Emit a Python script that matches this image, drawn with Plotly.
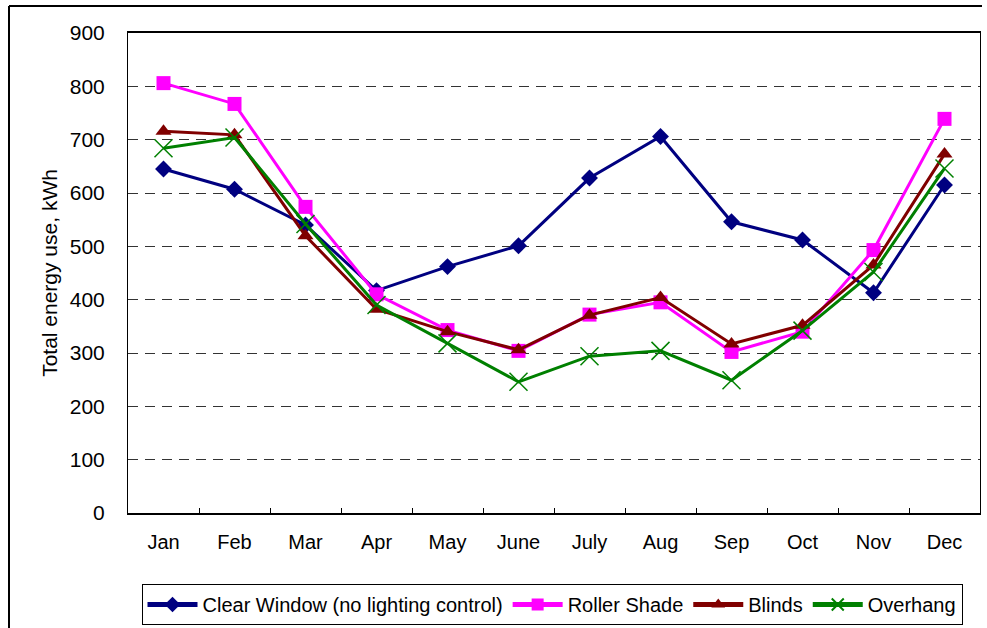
import plotly.graph_objects as go

months = ["Jan", "Feb", "Mar", "Apr", "May", "June", "July", "Aug", "Sep", "Oct", "Nov", "Dec"]
clear_window = [645, 607, 540, 417, 462, 501, 628, 706, 546, 512, 413, 615]
roller_shade = [806, 767, 574, 410, 343, 304, 372, 395, 302, 340, 493, 739]
blinds = [716, 709, 520, 382, 340, 306, 371, 404, 317, 352, 465, 673]
overhang = [684, 704, 542, 390, 318, 246, 294, 304, 249, 342, 452, 646]

y_ticks = [0, 100, 200, 300, 400, 500, 600, 700, 800, 900]

FONT = "Liberation Sans, Arial, sans-serif"

fig = go.Figure()
fig.add_trace(go.Scatter(
    x=months, y=clear_window, name="Clear Window (no lighting control)",
    mode="lines+markers", line=dict(color="#000080", width=3),
    marker=dict(symbol="diamond", size=13, color="#000080")))
fig.add_trace(go.Scatter(
    x=months, y=roller_shade, name="Roller Shade",
    mode="lines+markers", line=dict(color="#FF00FF", width=3),
    marker=dict(symbol="square", size=14, color="#FF00FF")))
fig.add_trace(go.Scatter(
    x=months, y=blinds, name="Blinds",
    mode="lines+markers", line=dict(color="#800000", width=3),
    marker=dict(symbol="triangle-up", size=14, color="#800000")))
fig.add_trace(go.Scatter(
    x=months, y=overhang, name="Overhang",
    mode="lines+markers", line=dict(color="#008000", width=3),
    marker=dict(symbol="x-thin", size=18, color="#008000",
                line=dict(color="#008000", width=1.5))))

W, H = 987, 628
L, R, T, B = 128, 980, 33, 513

def px_x(p):
    return (p - L) / (R - L)

def px_y(p):
    return (B - p) / (B - T)

fig.update_layout(
    width=W, height=H,
    margin=dict(l=L, r=W - R, t=T, b=H - B, autoexpand=False),
    paper_bgcolor="white", plot_bgcolor="white",
    font=dict(family=FONT, size=20, color="black"),
    showlegend=True,
    legend=dict(
        orientation="h", x=px_x(552), xanchor="center", y=px_y(584), yanchor="top",
        bordercolor="black", borderwidth=1, bgcolor="white",
        font=dict(family=FONT, size=20, color="black"),
        itemsizing="constant", tracegroupgap=0, itemwidth=50,
    ),
    shapes=[
        dict(type="line", xref="paper", yref="paper",
             x0=px_x(9), x1=px_x(982), y0=px_y(6), y1=px_y(6),
             line=dict(color="black", width=2)),
        dict(type="line", xref="paper", yref="paper",
             x0=px_x(9), x1=px_x(9), y0=px_y(6), y1=px_y(640),
             line=dict(color="black", width=2)),
    ],
)

fig.update_xaxes(
    type="category", categoryorder="array", categoryarray=months,
    range=[-0.5, len(months) - 0.5],
    showline=True, linecolor="black", linewidth=2, mirror=True,
    ticks="inside", ticklen=5, tickcolor="black", tickson="boundaries",
    showgrid=False, zeroline=False,
    tickfont=dict(family=FONT, size=20, color="black"),
    ticklabelstandoff=10,
)
fig.update_yaxes(
    range=[0, 900], tickvals=y_ticks, ticktext=[str(v) for v in y_ticks],
    showline=True, linecolor="black", linewidth=1, mirror=True,
    ticks="", showgrid=True, gridcolor="#333333", gridwidth=1,
    griddash="10px,7px", zeroline=False,
    tickfont=dict(family=FONT, size=21, color="black"),
    ticklabelstandoff=18,
    title=dict(text="Total energy use, kWh", standoff=6,
               font=dict(family=FONT, size=21, color="black")),
)

fig.write_html(
    "out.html",
    config={"displayModeBar": False},
    post_script="document.body.style.margin='0';document.body.style.overflow='hidden';",
)
